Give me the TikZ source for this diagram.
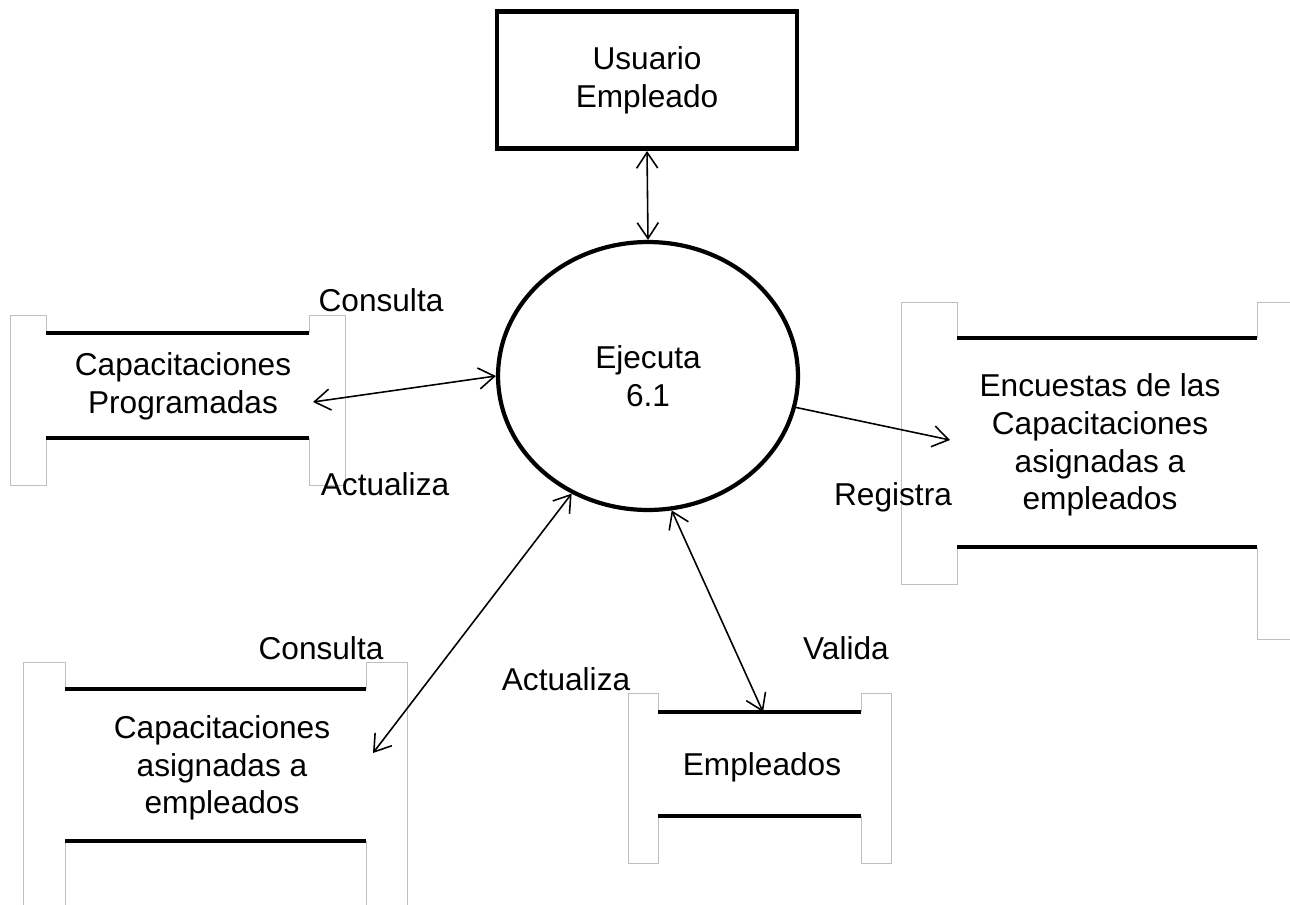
\documentclass[tikz,border=0pt]{standalone}
\usepackage{fontspec}
\setmainfont{Liberation Sans}
\usetikzlibrary{arrows.meta,shapes.geometric,positioning}

\tikzset{
  txt/.style={align=center, inner sep=0pt, font=\fontsize{18}{21.5}\selectfont},
  lbl/.style={inner sep=0pt, font=\fontsize{18}{21.5}\selectfont},
  extbox/.style={txt, draw, line width=2.8pt, minimum width=6cm, minimum height=2.74cm},
  proc/.style={txt, ellipse, draw, line width=2.4pt, minimum width=6cm, minimum height=5.36cm},
  tab/.style={draw=black!25, line width=0.5pt},
  storeline/.style={line width=2.3pt},
  barb/.tip={Straight Barb[length=9pt,width=12pt,line width=0.9pt]},
  flow/.style={barb-barb, line width=0.9pt},
  flowone/.style={-barb, line width=0.9pt}
}

\begin{document}
\begin{tikzpicture}[x=0.02cm,y=-0.02cm]
\useasboundingbox (0,0) rectangle (1290,905);

% entidad externa y proceso
\node[extbox] (usuario) at (647,80) {Usuario\\Empleado};
\node[proc] (ejecuta) at (648,376) {Ejecuta\\6.1};

% almacen: Capacitaciones Programadas
\draw[tab] (46,333) -- (46,315) -- (10,315) -- (10,485) -- (46,485) -- (46,438);
\draw[tab] (309,333) -- (309,315) -- (345,315) -- (345,485) -- (309,485) -- (309,438);
\draw[storeline] (46,333) -- (309,333);
\draw[storeline] (46,438) -- (309,438);
\node[txt] (capprog) at (183,386) {Capacitaciones\\Programadas};

% almacen: Encuestas
\draw[tab] (957,338) -- (957,302) -- (901,302) -- (901,584) -- (957,584) -- (957,547);
\draw[tab] (1257,338) -- (1257,302) -- (1300,302);
\draw[tab] (1300,639) -- (1257,639) -- (1257,547);
\draw[storeline] (957,338) -- (1257,338);
\draw[storeline] (957,547) -- (1257,547);
\node[txt] (encuestas) at (1100,445) {Encuestas de las\\Capacitaciones\\asignadas a\\empleados};

% almacen: Capacitaciones asignadas
\draw[tab] (65,689) -- (65,662) -- (23,662) -- (23,910);
\draw[tab] (65,910) -- (65,841);
\draw[tab] (366,689) -- (366,662) -- (407,662) -- (407,910);
\draw[tab] (366,910) -- (366,841);
\draw[storeline] (65,689) -- (366,689);
\draw[storeline] (65,841) -- (366,841);
\node[txt] (capasig) at (222,768) {Capacitaciones\\asignadas a\\empleados};

% almacen: Empleados
\draw[tab] (658,712) -- (658,693) -- (628,693) -- (628,863) -- (658,863) -- (658,816);
\draw[tab] (861,712) -- (861,693) -- (891,693) -- (891,863) -- (861,863) -- (861,816);
\draw[storeline] (658,712) -- (861,712);
\draw[storeline] (658,816) -- (861,816);
\node[txt] (empleados) at (762,767) {Empleados};

% extremos de los flujos
\coordinate (cpend) at (313,402);
\coordinate (encend) at (950,440);
\coordinate (caend) at (373,753);
\coordinate (empend) at (763,712);

% flujos
\draw[flow] (usuario.south) -- (ejecuta.north);
\draw[flow] (cpend) -- (ejecuta.180);
\draw[flowone] (ejecuta.-12) -- (encend);
\draw[flow] (caend) -- (ejecuta.237);
\draw[flow] (ejecuta.280) -- (empend);

% etiquetas
\node[lbl] (lcons1) at (381,300) {Consulta};
\node[lbl] (lact1) at (385,484) {Actualiza};
\node[lbl] (lreg) at (893,497) {Registra};
\node[lbl] (lcons2) at (321,648) {Consulta};
\node[lbl] (lact2) at (566,679) {Actualiza};
\node[lbl] (lval) at (846,648) {Valida};
\end{tikzpicture}
\end{document}
